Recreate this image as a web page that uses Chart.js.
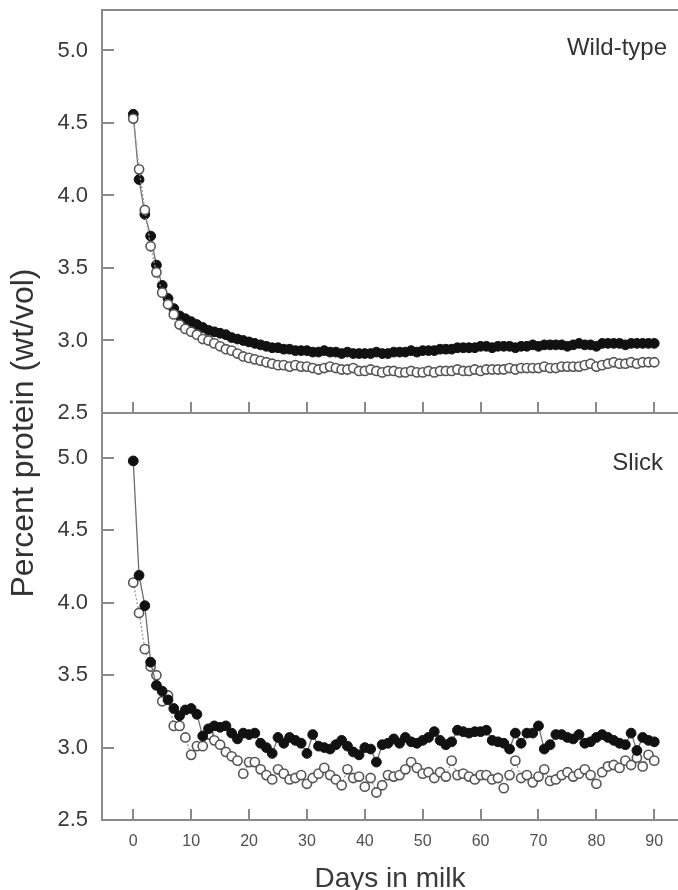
<!DOCTYPE html>
<html lang="en">
<head>
  <meta charset="UTF-8">
  <title>Percent protein - Wild-type vs Slick</title>
  <script src="https://cdn.jsdelivr.net/npm/chart.js"></script>
  <style>
    body {
      margin: 0;
      background: #fff;
      font-family: "Liberation Sans", Arial, sans-serif;
      color: #333;
    }
    #wrap {
      position: relative;
      width: 678px;
      height: 890px;
      overflow: hidden;
    }
    canvas { position: absolute; left: 0; }
    #topChart { top: 0; }
    #bottomChart { top: 400px; }
    .panel-label {
      position: absolute;
      font-size: 24px;
      line-height: 28px;
      color: #333;
    }
    #ytitle {
      position: absolute;
      width: 440px;
      left: -198px;
      top: 414px;
      line-height: 38px;
      text-align: center;
      font-size: 32px;
      color: #333;
      transform: rotate(-90deg);
    }
  </style>
</head>
<body>
<div id="wrap">
  <canvas id="topChart" width="678" height="420"></canvas>
  <canvas id="bottomChart" width="678" height="500"></canvas>
  <div class="panel-label" style="right: 11px; top: 33px;">Wild-type</div>
  <div class="panel-label" style="right: 15px; top: 448px;">Slick</div>
  <div id="ytitle">Percent protein (wt/vol)</div>
</div>

<script>
  // days in milk 0..90
  const days = Array.from({ length: 91 }, (_, i) => i);
  const xTicks = [0, 10, 20, 30, 40, 50, 60, 70, 80, 90];
  const yTicks = [2.5, 3.0, 3.5, 4.0, 4.5, 5.0];

  // Wild-type panel
  const wtFilled = [
    4.56, 4.11, 3.87, 3.72, 3.52, 3.38, 3.29, 3.22, 3.17, 3.15,
    3.13, 3.11, 3.09, 3.07, 3.06, 3.05, 3.04, 3.02, 3.01, 3.00,
    2.99, 2.98, 2.97, 2.96, 2.95, 2.95, 2.94, 2.94, 2.93, 2.93,
    2.93, 2.92, 2.92, 2.93, 2.92, 2.92, 2.91, 2.92, 2.91, 2.91,
    2.91, 2.91, 2.92, 2.91, 2.91, 2.92, 2.92, 2.92, 2.93, 2.92,
    2.93, 2.93, 2.93, 2.94, 2.94, 2.94, 2.95, 2.95, 2.95, 2.95,
    2.96, 2.96, 2.95, 2.96, 2.96, 2.96, 2.95, 2.96, 2.96, 2.97,
    2.96, 2.97, 2.97, 2.97, 2.97, 2.96, 2.97, 2.98, 2.97, 2.97,
    2.96, 2.98, 2.98, 2.98, 2.98, 2.97, 2.98, 2.98, 2.98, 2.98,
    2.98
  ];
  const wtOpen = [
    4.53, 4.18, 3.90, 3.65, 3.47, 3.33, 3.25, 3.18, 3.11, 3.08,
    3.06, 3.04, 3.01, 3.00, 2.98, 2.96, 2.94, 2.93, 2.91, 2.89,
    2.88, 2.87, 2.86, 2.85, 2.84, 2.83, 2.83, 2.82, 2.83, 2.82,
    2.82, 2.81, 2.80, 2.81, 2.82, 2.81, 2.80, 2.80, 2.81, 2.79,
    2.79, 2.80, 2.79, 2.78, 2.79, 2.79, 2.78, 2.78, 2.79, 2.78,
    2.78, 2.79, 2.78, 2.79, 2.79, 2.79, 2.80, 2.79, 2.79, 2.80,
    2.79, 2.80, 2.80, 2.80, 2.80, 2.81, 2.80, 2.81, 2.81, 2.81,
    2.81, 2.82, 2.81, 2.81, 2.82, 2.82, 2.82, 2.82, 2.83, 2.84,
    2.82, 2.83, 2.84, 2.85, 2.84, 2.84, 2.85, 2.84, 2.85, 2.85,
    2.85
  ];

  // Slick panel
  const slickFilled = [
    4.98, 4.19, 3.98, 3.59, 3.43, 3.39, 3.33, 3.27, 3.22, 3.26,
    3.27, 3.23, 3.08, 3.13, 3.15, 3.14, 3.15, 3.10, 3.06, 3.10,
    3.09, 3.10, 3.03, 3.00, 2.96, 3.07, 3.03, 3.07, 3.05, 3.03,
    2.96, 3.09, 3.01, 3.00, 2.99, 3.02, 3.05, 3.01, 2.97, 2.95,
    3.00, 2.99, 2.90, 3.02, 3.03, 3.06, 3.03, 3.07, 3.04, 3.03,
    3.05, 3.07, 3.11, 3.05, 3.02, 3.04, 3.12, 3.11, 3.10, 3.11,
    3.11, 3.12, 3.05, 3.04, 3.03, 2.99, 3.10, 3.03, 3.10, 3.10,
    3.15, 2.99, 3.02, 3.09, 3.09, 3.07, 3.06, 3.09, 3.03, 3.04,
    3.07, 3.09, 3.07, 3.05, 3.03, 3.02, 3.10, 2.98, 3.07, 3.05,
    3.04
  ];
  const slickOpen = [
    4.14, 3.93, 3.68, 3.56, 3.50, 3.32, 3.36, 3.15, 3.15, 3.07,
    2.95, 3.01, 3.01, 3.09, 3.05, 3.02, 2.97, 2.94, 2.91, 2.82,
    2.90, 2.90, 2.85, 2.81, 2.78, 2.85, 2.82, 2.78, 2.79, 2.81,
    2.75, 2.79, 2.82, 2.86, 2.81, 2.78, 2.74, 2.85, 2.79, 2.80,
    2.73, 2.79, 2.69, 2.74, 2.81, 2.80, 2.81, 2.85, 2.90, 2.86,
    2.82, 2.83, 2.79, 2.83, 2.80, 2.91, 2.81, 2.82, 2.80, 2.78,
    2.81, 2.81, 2.78, 2.79, 2.72, 2.81, 2.91, 2.79, 2.81, 2.76,
    2.80, 2.85, 2.77, 2.78, 2.81, 2.83, 2.80, 2.82, 2.85, 2.81,
    2.75, 2.83, 2.87, 2.88, 2.86, 2.91, 2.88, 2.93, 2.87, 2.95,
    2.91
  ];

  const axisColor = '#8a8a8a';
  const textColor = '#3a3a3a';
  const fontFamily = '"Liberation Sans", Arial, sans-serif';

  function pts(vals) {
    return vals.map((v, i) => ({ x: days[i], y: v }));
  }

  function filledSet(vals) {
    return {
      data: pts(vals),
      borderColor: '#6e6e6e',
      borderWidth: 1.3,
      pointRadius: 4.9,
      pointBackgroundColor: '#111',
      pointBorderColor: '#111',
      pointBorderWidth: 1,
      tension: 0
    };
  }

  function openSet(vals) {
    return {
      data: pts(vals),
      borderColor: '#999',
      borderWidth: 1.3,
      borderDash: [2, 2],
      pointRadius: 4.6,
      pointBackgroundColor: '#fff',
      pointBorderColor: '#555',
      pointBorderWidth: 1.6,
      tension: 0
    };
  }

  // tick marks point into the plot, plus optional frame line on top
  const innerTicks = {
    id: 'innerTicks',
    beforeDatasetsDraw(chart, args, opts) {
      const { ctx, chartArea: a, scales: { x, y } } = chart;
      ctx.save();
      ctx.strokeStyle = axisColor;
      ctx.lineWidth = 2;
      ctx.beginPath();
      y.ticks.forEach(t => {
        const p = Math.round(y.getPixelForValue(t.value));
        ctx.moveTo(a.left, p);
        ctx.lineTo(a.left + 12, p);
      });
      x.ticks.forEach(t => {
        const p = Math.round(x.getPixelForValue(t.value));
        ctx.moveTo(p, a.bottom);
        ctx.lineTo(p, a.bottom - 11);
      });
      if (opts.topLine) {
        ctx.moveTo(a.left, a.top);
        ctx.lineTo(a.right, a.top);
      }
      ctx.stroke();
      ctx.restore();
    }
  };

  function makeChart(id, datasets, cfg) {
    return new Chart(document.getElementById(id), {
      type: 'line',
      data: { datasets: datasets },
      options: {
        responsive: false,
        animation: false,
        layout: { autoPadding: false, padding: { top: cfg.padTop, left: 0, right: 0, bottom: 0 } },
        plugins: {
          legend: { display: false },
          tooltip: { enabled: false },
          innerTicks: { topLine: cfg.topLine }
        },
        scales: {
          x: {
            type: 'linear',
            min: -5.4,
            max: 94.1,
            grid: { display: false, drawTicks: false },
            border: { display: true, color: axisColor, width: 2 },
            afterBuildTicks: s => { s.ticks = xTicks.map(v => ({ value: v })); },
            afterFit: s => {
              s.height = cfg.xHeight;
              s.paddingLeft = 0;
              s.paddingRight = 0;
            },
            ticks: {
              display: cfg.xLabels,
              padding: 12,
              color: '#505050',
              font: { size: 16, family: fontFamily }
            },
            title: {
              display: cfg.xLabels,
              text: 'Days in milk',
              color: textColor,
              padding: { top: 0, bottom: 4 },
              font: { size: 28, family: fontFamily }
            }
          },
          y: {
            min: 2.5,
            max: cfg.yMax,
            grid: { display: false, drawTicks: false },
            border: { display: true, color: axisColor, width: 2 },
            afterBuildTicks: s => { s.ticks = yTicks.map(v => ({ value: v })); },
            afterFit: s => {
              s.width = 102;
              s.paddingTop = 0;
              s.paddingBottom = 0;
            },
            ticks: {
              padding: 14,
              color: textColor,
              font: { size: 22, family: fontFamily },
              callback: v => v.toFixed(1)
            }
          }
        }
      },
      plugins: [innerTicks]
    });
  }

  // top: open circles drawn over filled ones
  makeChart('topChart', [openSet(wtOpen), filledSet(wtFilled)], {
    padTop: 10, xHeight: 7, xLabels: false, yMax: 5.279, topLine: true
  });

  // bottom: filled circles drawn over open ones
  makeChart('bottomChart', [filledSet(slickFilled), openSet(slickOpen)], {
    padTop: 13, xHeight: 80, xLabels: true, yMax: 5.311, topLine: false
  });
</script>
</body>
</html>
